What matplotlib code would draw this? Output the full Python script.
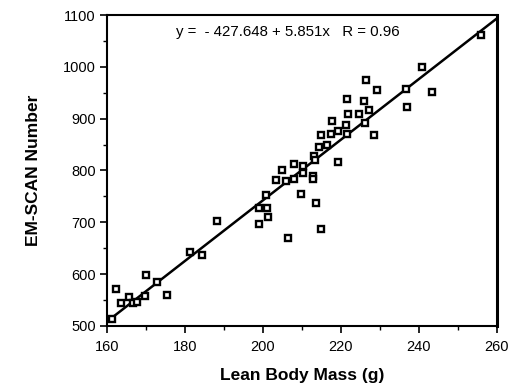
import matplotlib
matplotlib.use("Agg")
import matplotlib.pyplot as plt
import numpy as np
from matplotlib.ticker import MultipleLocator

plt.rcParams['font.family'] = ['Liberation Sans', 'DejaVu Sans']

# lean body mass (g) and EM-SCAN number
lbm = [161.2, 162.3, 163.6, 165.7, 166.6, 167.7, 169.8, 169.9, 172.7, 175.3,
       181.3, 184.3, 188.3, 199.0, 199.0, 201.1, 201.2, 200.8, 203.3, 205.0,
       205.9, 206.5, 207.9, 208.0, 209.7, 210.2, 210.3, 212.9, 212.9, 213.6,
       213.2, 213.4, 214.8, 214.4, 216.3, 214.9, 217.4, 217.8, 219.2, 219.3,
       221.3, 221.6, 221.9, 221.6, 224.5, 226.0, 227.3, 226.2, 228.4, 226.4,
       229.3, 236.7, 237.0, 240.8, 243.3, 255.9]
emscan = [513, 571, 544, 555, 544, 546, 557, 599, 584, 560,
          642, 637, 703, 697, 727, 727, 711, 753, 781, 801,
          779, 669, 783, 812, 754, 796, 808, 790, 783, 737,
          828, 820, 687, 846, 849, 869, 870, 896, 816, 876,
          887, 870, 909, 937, 909, 934, 917, 891, 869, 975,
          955, 957, 923, 1000, 952, 1061]

intercept = -427.648
slope = 5.851
r_value = 0.96

fig = plt.figure(figsize=(5.1, 3.89), dpi=100)
ax = fig.add_axes([0.2098, 0.162, 0.7647, 0.7994])

xl = np.array([160, 260])
ax.plot(xl, intercept + slope * xl, color='black', lw=1.8, zorder=2)
ax.plot(lbm, emscan, ls='none', marker='s', ms=4.6, mfc='white',
        mec='black', mew=1.7, zorder=3)

ax.set_xlim(160, 260)
ax.set_ylim(500, 1100)
ax.xaxis.set_major_locator(MultipleLocator(20))
ax.xaxis.set_minor_locator(MultipleLocator(10))
ax.yaxis.set_major_locator(MultipleLocator(100))
ax.yaxis.set_minor_locator(MultipleLocator(50))
ax.tick_params(which='major', direction='out', length=5, width=1.2,
               labelsize=10.5, pad=3)
ax.tick_params(which='minor', direction='out', length=3, width=1)
ax.tick_params(axis='x', pad=5)

for s in ax.spines.values():
    s.set_linewidth(1.5)
ax.spines['right'].set_linewidth(2.2)

ax.text(0.464, 0.945, 'y =  - %.3f + %.3fx   R = %.2f' % (-intercept, slope, r_value),
        transform=ax.transAxes, ha='center', va='center', fontsize=10.8)

ax.set_xlabel('Lean Body Mass (g)', fontsize=12.5, fontweight='bold', labelpad=10)
ax.set_ylabel('EM-SCAN Number', fontsize=12.5, fontweight='bold', labelpad=16)

fig.savefig('out.png', dpi=100)
